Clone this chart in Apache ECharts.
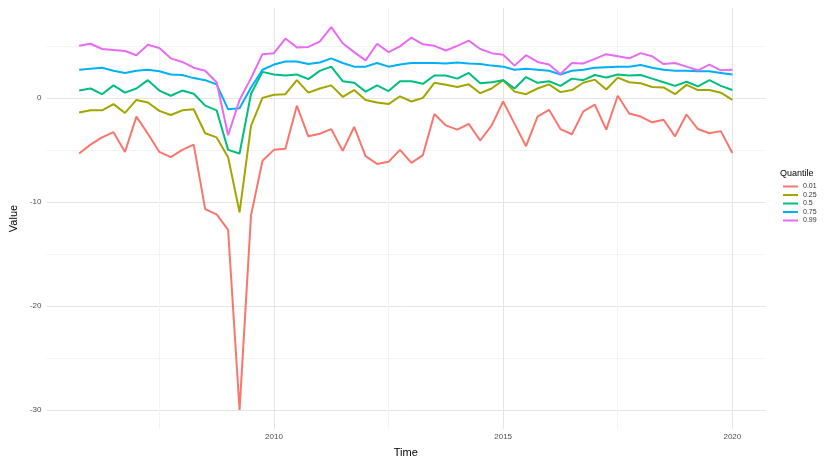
<!DOCTYPE html>
<html>
<head>
<meta charset="utf-8">
<script src="https://cdn.jsdelivr.net/npm/echarts@6/dist/echarts.min.js"></script>
<style>
    html, body { margin: 0; padding: 0; background: #fff; }
    #container { width: 824px; height: 463px; }
</style>
</head>
<body>
<div id="container"></div>
<script>
// quarterly series, first point 2005.75, last 2020.0
var startYear = 2005.75;
var quantiles = ['0.01', '0.25', '0.5', '0.75', '0.99'];
var colors = ['#F8766D', '#A3A500', '#00BF7D', '#00B0F6', '#E76BF3'];

var q01 = [-5.35, -4.5, -3.8, -3.3, -5.2, -1.8, -3.45, -5.2, -5.7, -5.0,
    -4.5, -10.7, -11.2, -12.7, -30.0, -11.3, -6.05, -5.0, -4.9, -0.75,
    -3.7, -3.45, -3.0, -5.1, -2.8, -5.6, -6.35, -6.15, -5.0, -6.25,
    -5.5, -1.55, -2.65, -3.05, -2.5, -4.1, -2.65, -0.35, -2.5, -4.65,
    -1.8, -1.15, -3.0, -3.5, -1.3, -0.65, -3.05, 0.2, -1.5, -1.8,
    -2.35, -2.1, -3.7, -1.6, -3.0, -3.4, -3.2, -5.3];
var q25 = [-1.4, -1.2, -1.2, -0.6, -1.45, -0.2, -0.45, -1.25, -1.65, -1.2,
    -1.1, -3.4, -3.8, -5.7, -11.0, -2.7, 0.0, 0.3, 0.35, 1.7,
    0.5, 0.9, 1.2, 0.1, 0.75, -0.2, -0.45, -0.6, 0.15, -0.35,
    0.0, 1.45, 1.25, 1.05, 1.3, 0.45, 0.9, 1.7, 0.6, 0.35,
    0.9, 1.3, 0.55, 0.75, 1.45, 1.75, 0.8, 1.95, 1.5, 1.4,
    1.05, 1.0, 0.35, 1.25, 0.75, 0.75, 0.5, -0.2];
var q50 = [0.7, 0.9, 0.35, 1.2, 0.5, 0.9, 1.7, 0.7, 0.2, 0.7,
    0.4, -0.75, -1.2, -5.0, -5.35, 0.4, 2.5, 2.25, 2.15, 2.25,
    1.8, 2.6, 3.0, 1.6, 1.45, 0.6, 1.2, 0.65, 1.6, 1.6,
    1.35, 2.15, 2.15, 1.85, 2.4, 1.4, 1.5, 1.7, 0.9, 2.0,
    1.45, 1.6, 1.15, 1.85, 1.7, 2.2, 1.95, 2.25, 2.15, 2.2,
    1.85, 1.5, 1.15, 1.55, 1.1, 1.7, 1.15, 0.75];
var q75 = [2.7, 2.8, 2.9, 2.6, 2.4, 2.6, 2.7, 2.55, 2.25, 2.2,
    1.9, 1.7, 1.3, -1.1, -1.0, 1.0, 2.7, 3.2, 3.5, 3.5,
    3.25, 3.4, 3.8, 3.35, 3.0, 3.0, 3.35, 3.0, 3.2, 3.35,
    3.35, 3.35, 3.3, 3.4, 3.3, 3.25, 3.1, 3.0, 2.7, 2.8,
    2.7, 2.6, 2.25, 2.6, 2.7, 2.9, 2.95, 3.0, 3.0, 3.15,
    2.9, 2.7, 2.6, 2.6, 2.55, 2.55, 2.4, 2.25];
var q99 = [5.0, 5.2, 4.7, 4.6, 4.5, 4.1, 5.1, 4.8, 3.8, 3.45,
    2.9, 2.6, 1.5, -3.6, -0.2, 1.9, 4.2, 4.3, 5.7, 4.85,
    4.9, 5.4, 6.8, 5.25, 4.4, 3.6, 5.2, 4.4, 4.95, 5.8,
    5.15, 5.0, 4.55, 5.0, 5.5, 4.7, 4.3, 4.15, 3.1, 4.1,
    3.45, 3.2, 2.3, 3.35, 3.3, 3.75, 4.2, 4.0, 3.8, 4.3,
    4.0, 3.25, 3.35, 3.0, 2.65, 3.2, 2.65, 2.7];

var xLabels = [2010, 2015, 2020];
var xGrid = [2007.5, 2010, 2012.5, 2015, 2017.5, 2020];
var yLabels = [-30, -20, -10, 0];
var yGrid = [-30, -25, -20, -15, -10, -5, 0, 5];

window.onload = function () {
    var myChart = echarts.init(document.getElementById('container'));
    var allSeries = [q01, q25, q50, q75, q99];

    var series = allSeries.map(function (vals, k) {
        return {
            name: quantiles[k],
            type: 'line',
            showSymbol: false,
            lineStyle: { width: 2, color: colors[k] },
            itemStyle: { color: colors[k] },
            data: vals.map(function (v, i) { return [startYear + i / 4, v]; })
        };
    });

    var font = 'Liberation Sans, Arial, sans-serif';
    var option = {
        animation: false,
        color: colors,
        textStyle: { fontFamily: font },
        title: {
            text: 'Quantile',
            left: 780, top: 169, padding: 0,
            textStyle: { fontSize: 9, fontWeight: 'normal', color: '#000', fontFamily: font }
        },
        legend: {
            orient: 'vertical',
            left: 783, top: 183,
            padding: 0,
            itemGap: 1.5,
            itemWidth: 15, itemHeight: 2,
            icon: 'rect',
            textStyle: { fontSize: 7, lineHeight: 7, color: '#333', fontFamily: font },
            data: quantiles
        },
        grid: { left: 45, right: 59, top: 8, bottom: 28 },
        xAxis: {
            type: 'value',
            min: 2005.0375, max: 2020.7125,
            name: 'Time', nameLocation: 'middle', nameGap: 18,
            nameTextStyle: { fontSize: 11, color: '#000' },
            axisLine: { show: false },
            axisTick: { show: false, customValues: xGrid },
            axisLabel: {
                customValues: xLabels, fontSize: 8, color: '#4d4d4d', margin: 4,
                formatter: function (v) { return String(v); }
            },
            splitLine: { show: true, lineStyle: { color: ['#f3f3f3', '#e4e4e4'], width: 1 } }
        },
        yAxis: {
            type: 'value',
            min: -31.84, max: 8.64,
            name: 'Value', nameLocation: 'middle', nameGap: 26,
            nameTextStyle: { fontSize: 11, color: '#000' },
            axisLine: { show: false },
            axisTick: { show: false, customValues: yGrid },
            axisLabel: {
                customValues: yLabels, fontSize: 8, color: '#4d4d4d', margin: 5,
                formatter: function (v) { return String(v); }
            },
            splitLine: { show: true, lineStyle: { color: ['#e4e4e4', '#f3f3f3'], width: 1 } }
        },
        series: series
    };
    myChart.setOption(option);
};
</script>
</body>
</html>
